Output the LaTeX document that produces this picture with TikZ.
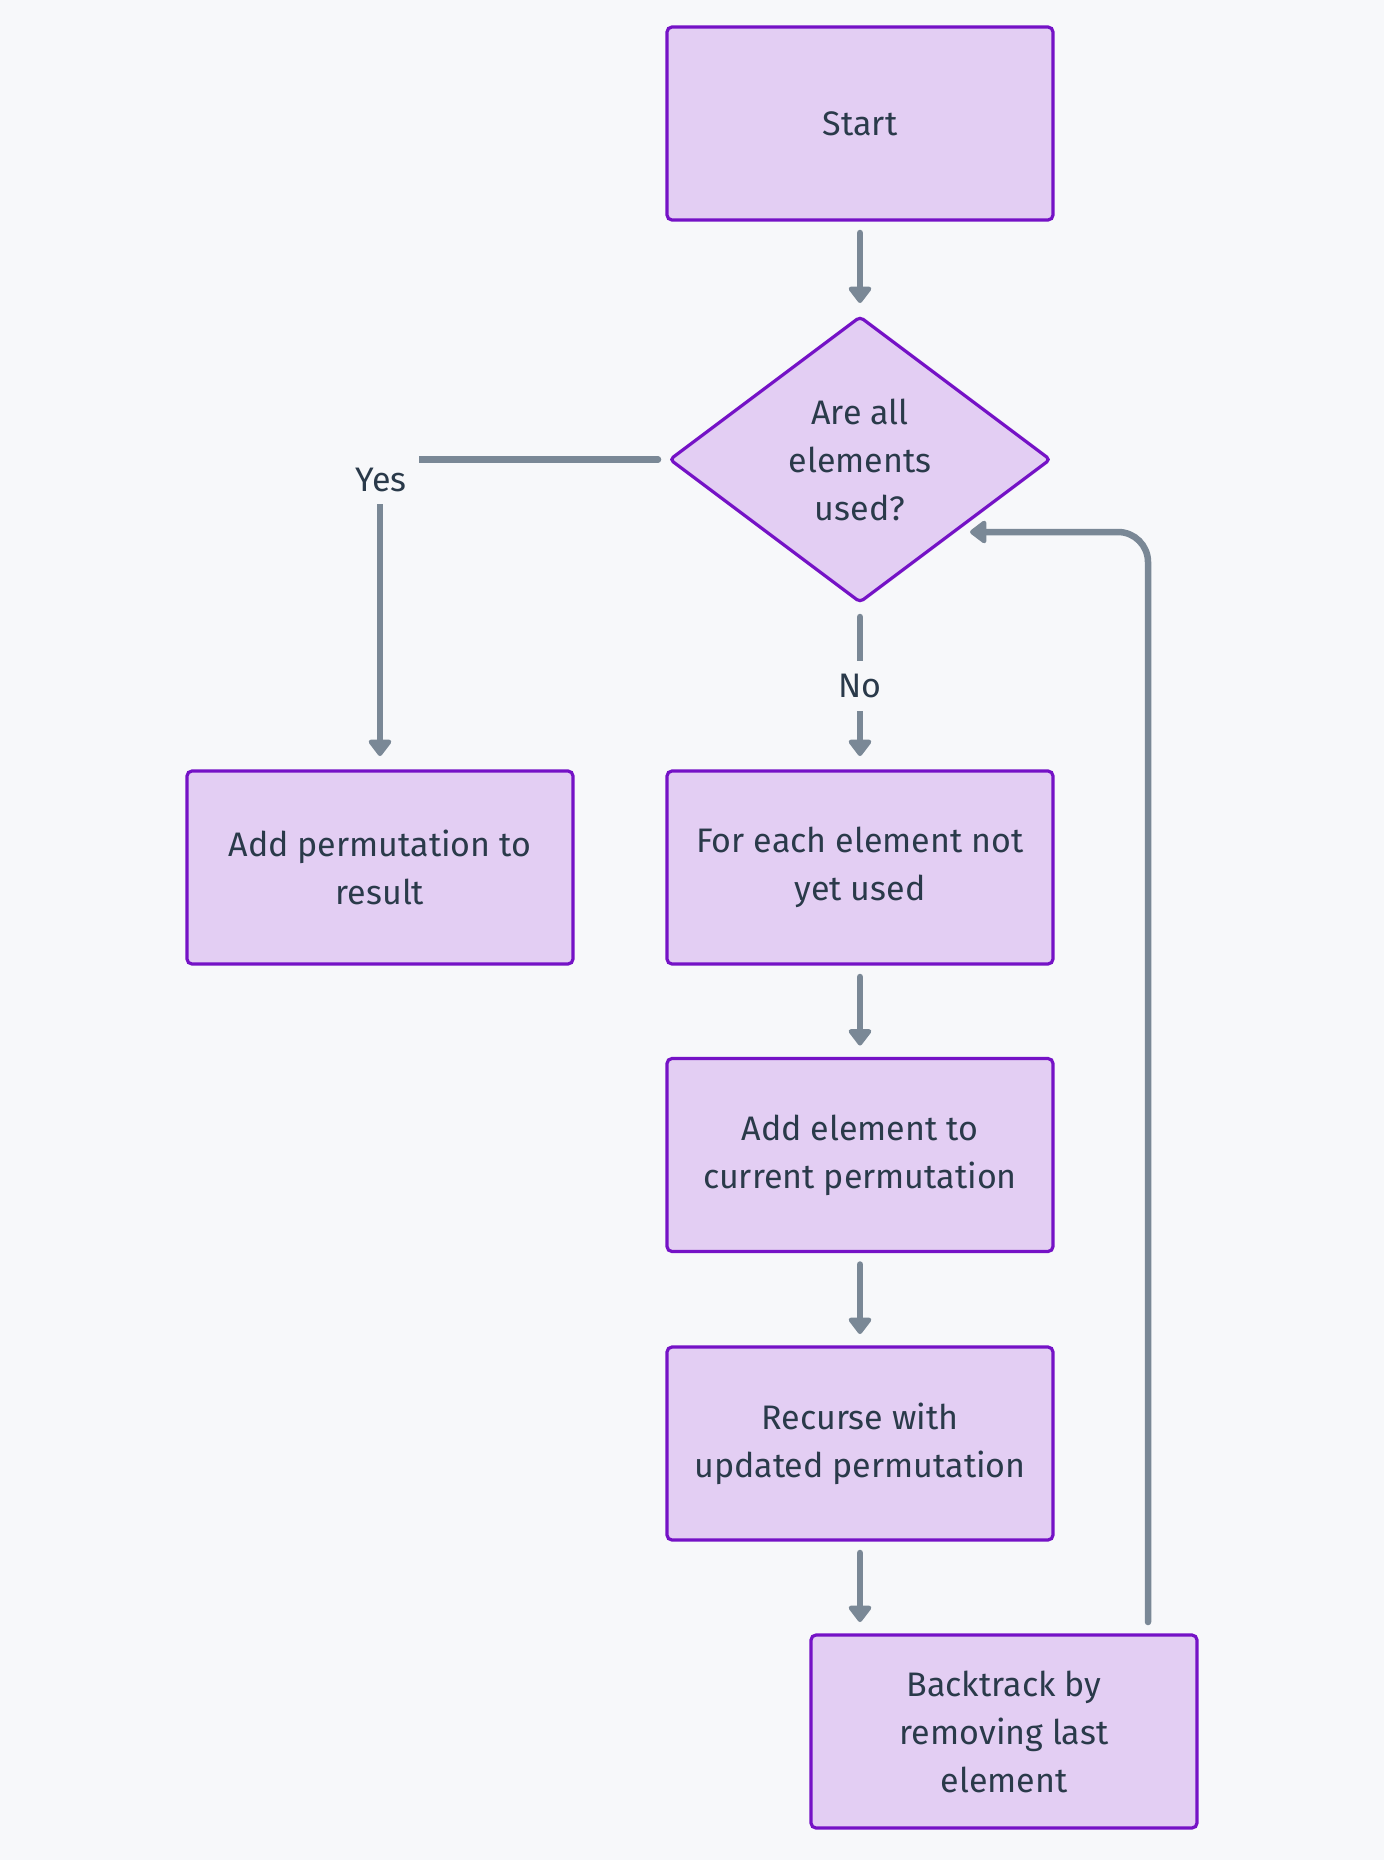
\documentclass[tikz,border=0pt]{standalone}
\usepackage{fontspec}
\setmainfont{Fira Sans}
\usetikzlibrary{shapes.geometric,arrows.meta}
\definecolor{bgc}{HTML}{F7F8FA}
\definecolor{boxfill}{HTML}{E3CEF3}
\definecolor{boxline}{HTML}{7512C6}
\definecolor{edgec}{HTML}{7A8896}
\definecolor{txt}{HTML}{2A3A4A}
\tikzset{
  box/.style={draw=boxline, fill=boxfill, line width=3.2pt, rounded corners=5pt,
    minimum width=386, minimum height=193, inner sep=0pt, outer sep=0pt,
    align=center, text=txt, font=\fontsize{34}{48}\selectfont},
  dec/.style={diamond, draw=boxline, fill=boxfill, line width=3.2pt, rounded corners=4pt,
    minimum width=380, minimum height=285, inner sep=0pt, outer sep=0pt, aspect=1.33,
    align=center, text=txt, font=\fontsize{34}{48}\selectfont},
  conn/.style={draw=edgec, line width=6.5pt, line cap=round,
    -{Triangle[width=26pt,length=18pt,round]}},
  lbl/.style={fill=bgc, text=txt, inner sep=0pt, font=\fontsize{34}{40}\selectfont}
}
\begin{document}
\begin{tikzpicture}[x=1pt,y=-1pt]
\fill[bgc] (0,0) rectangle (1384,1860);
\useasboundingbox (0,0) rectangle (1384,1860);

\node[box] (start) at (860,123.5) {Start};
\node[dec] (cond) at (860,459.5) {Are all\\elements\\used?};
\node[box] (addres) at (380,867.5) {Add permutation to\\result};
\node[box] (foreach) at (860,867.5) {For each element not\\yet used};
\node[box] (addel) at (860,1155) {Add element to\\current permutation};
\node[box] (recurse) at (860,1443.5) {Recurse with\\updated permutation};
\node[box] (back) at (1004,1731.5) {Backtrack by\\removing last\\element};

\draw[conn, shorten <=13pt, shorten >=14pt] (start.south) -- (cond.north);

% Yes branch
\draw[conn, shorten <=12pt, shorten >=15pt] (cond.west) -| (addres.north);
\node[lbl, minimum width=76, minimum height=48] (yes) at (381,480) {Yes};

% No branch
\draw[conn, shorten <=15pt, shorten >=15pt] (cond.south) -- (foreach.north);
\node[lbl, minimum width=56, minimum height=50] (no) at (860,686) {No};

\draw[conn, shorten <=13pt, shorten >=13pt] (foreach.south) -- (addel.north);
\draw[conn, shorten <=13pt, shorten >=13pt] (addel.south) -- (recurse.north);
\draw[conn, shorten <=13pt, shorten >=13pt] (recurse.south) -- (recurse.south |- back.north);

% loop back
\coordinate (loopin) at (970,532);
\draw[conn, shorten <=13pt, rounded corners=30pt] (back.north -| 1148,0) -- (1148,532) -- (loopin);
\end{tikzpicture}
\end{document}
